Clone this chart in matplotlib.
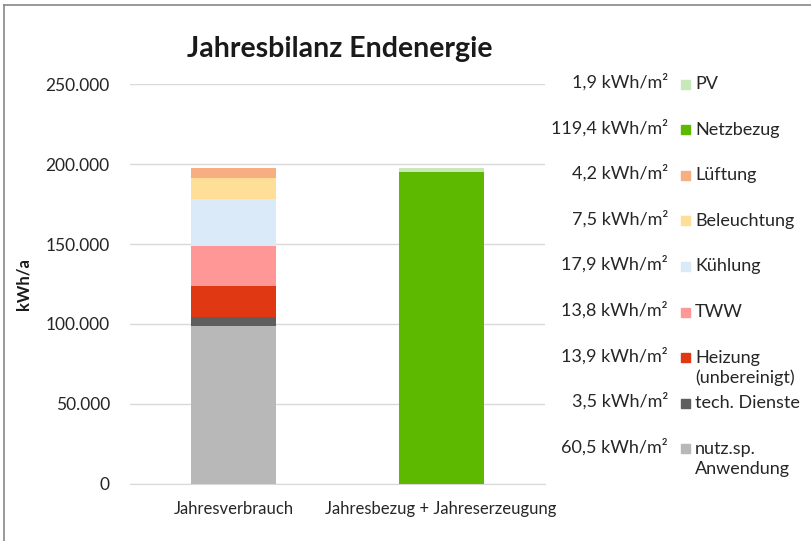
import numpy as np
import matplotlib
matplotlib.use('Agg')
import matplotlib.pyplot as plt
from matplotlib.patches import Rectangle
from matplotlib.lines import Line2D
from matplotlib.ticker import FuncFormatter

plt.rcParams['font.family'] = ['Lato', 'DejaVu Sans']

## data
categories = ['Jahresverbrauch', 'Jahresbezug + Jahreserzeugung']

# stacked segments, bottom -> top (kWh/a)
verbrauch_names = ['nutz.sp.\nAnwendung', 'tech. Dienste', 'Heizung\n(unbereinigt)',
                   'TWW', 'Kühlung', 'Beleuchtung', 'Lüftung']
verbrauch_values = [98500, 6000, 19500, 25000, 29000, 13000, 6500]
verbrauch_colors = ['#B8B8B8', '#5E5E5E', '#E03812', '#FF9797', '#DAEAF8', '#FFDF98', '#F7AE80']

erzeugung_names = ['Netzbezug', 'PV']
erzeugung_values = [195000, 2500]
erzeugung_colors = ['#5DB900', '#C8E8B8']

# legend entries, top -> bottom
legend_labels = ['PV', 'Netzbezug', 'Lüftung', 'Beleuchtung', 'Kühlung', 'TWW',
                 'Heizung\n(unbereinigt)', 'tech. Dienste', 'nutz.sp.\nAnwendung']
legend_values = ['1,9', '119,4', '4,2', '7,5', '17,9', '13,8', '13,9', '3,5', '60,5']
legend_colors = ['#C8E8B8', '#5DB900', '#F7AE80', '#FFDF98', '#DAEAF8', '#FF9797',
                 '#E03812', '#5E5E5E', '#B8B8B8']

yticks = [0, 50000, 100000, 150000, 200000, 250000]

TXT = '#262626'

fig = plt.figure(figsize=(8.12, 5.41), dpi=100)
ax = fig.add_axes([0.160, 0.1054, 0.511, 0.7393])

bw = 0.41
bottom = 0
for v, c in zip(verbrauch_values, verbrauch_colors):
    ax.bar(0, v, bw, bottom=bottom, color=c, zorder=3)
    bottom += v
bottom = 0
for v, c in zip(erzeugung_values, erzeugung_colors):
    ax.bar(1, v, bw, bottom=bottom, color=c, zorder=3)
    bottom += v

ax.set_xlim(-0.5, 1.5)
ax.set_ylim(0, 250000)
ax.set_yticks(yticks)
ax.yaxis.set_major_formatter(FuncFormatter(lambda v, p: '{:,.0f}'.format(v).replace(',', '.')))
ax.set_xticks([0, 1])
ax.set_xticklabels(categories)
ax.grid(axis='y', color='#D9D9D9', linewidth=1, zorder=0)
for s in ['top', 'right', 'left']:
    ax.spines[s].set_visible(False)
ax.spines['bottom'].set_color('#D9D9D9')
ax.tick_params(axis='both', length=0, labelcolor=TXT)
ax.tick_params(axis='y', pad=14.5, labelsize=12.5)
ax.tick_params(axis='x', pad=12, labelsize=12)
ax.set_ylabel('kWh/a', fontsize=12, fontweight='bold', color='#1a1a1a', labelpad=2)
ax.yaxis.set_label_coords(-0.236, 0.5)

fig.text(0.419, 0.910, 'Jahresbilanz Endenergie', ha='center', va='center',
         fontsize=20.5, fontweight='bold', color='#1a1a1a')

# legend with values
y0 = 1 - 84 / 541
dy = 45.6 / 541
for i, (lab, val, col) in enumerate(zip(legend_labels, legend_values, legend_colors)):
    y = y0 - i * dy
    fig.text(668 / 812, y + 2 / 541, val + ' kWh/m²', ha='right', va='center', fontsize=13,
             color=TXT)
    fig.add_artist(Rectangle((681 / 812, y - 4.5 / 541), 9 / 812, 9 / 541,
                             transform=fig.transFigure, color=col))
    fig.text(695 / 812, y + 8 / 541, lab, ha='left', va='top', fontsize=13, color=TXT,
             linespacing=1.3)

# frame
fig.add_artist(Line2D([4 / 812, 4 / 812], [0, 1 - 5 / 541], transform=fig.transFigure,
                      color='#888888', linewidth=1.2))
fig.add_artist(Line2D([4 / 812, 1], [1 - 5 / 541, 1 - 5 / 541], transform=fig.transFigure,
                      color='#888888', linewidth=1.2))

fig.savefig('out.png', dpi=100)
